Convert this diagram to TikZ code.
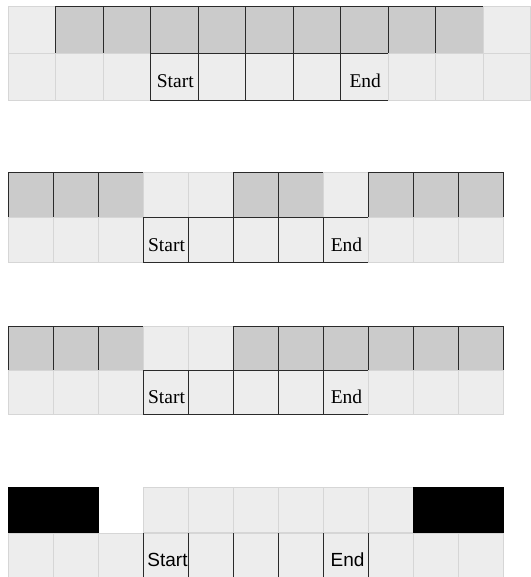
\documentclass[tikz,border=0pt]{standalone}
\usepackage{fontspec}
\setmainfont{Liberation Serif}
\newfontfamily\arialfont{Liberation Sans}

\definecolor{fillLight}{HTML}{EDEDED}
\definecolor{lineLight}{HTML}{D6D6D6}
\definecolor{fillGrey}{HTML}{CBCBCB}
\definecolor{lineDark}{HTML}{2A2A2A}

\begin{document}
\begin{tikzpicture}[
    x=1pt, y=-1pt,
    cell/.style={inner sep=0pt, outer sep=0pt, line width=0.8pt},
    lightcell/.style={cell, draw=lineLight, fill=fillLight},
    greycell/.style={cell, draw=lineDark, fill=fillGrey},
    markcell/.style={cell, draw=lineDark, fill=fillLight},
    raisedcell/.style={lightcell, minimum height=48pt},
    blackcell/.style={cell, draw=black, fill=black},
    gapcell/.style={cell},
    tag/.style={anchor=base, inner sep=0pt, font=\fontsize{19.5}{20}\selectfont},
    sanstag/.style={tag, font=\fontsize{19}{20}\selectfont\arialfont},
    edge/.style={lineDark, line width=1pt},
]
\useasboundingbox (0,0) rectangle (530,577);

%----------------------------------
% Row 1
%----------------------------------

\foreach \k [count=\i from 0] in {lightcell,greycell,greycell,greycell,greycell,greycell,greycell,greycell,greycell,greycell,lightcell}
    \node[\k, minimum width=47.5pt, minimum height=47pt, anchor=south west] (r1t\i) at (8+\i*47.5, 53) {};

\foreach \k [count=\i from 0] in {lightcell,lightcell,lightcell,markcell,markcell,markcell,markcell,markcell,lightcell,lightcell,lightcell}
    \node[\k, minimum width=47.5pt, minimum height=47pt, anchor=north west] (r1b\i) at (8+\i*47.5, 53) {};

\node[tag] at ([xshift=1pt,yshift=12pt]r1b3.south) {Start};
\node[tag] at ([xshift=1pt,yshift=12pt]r1b7.south) {End};

%----------------------------------
% Row 2
%----------------------------------

\foreach \k [count=\i from 0] in {greycell,greycell,greycell,lightcell,lightcell,greycell,greycell,raisedcell,greycell,greycell,greycell}
    \node[\k, minimum width=45pt, minimum height=45pt, anchor=south west] (r2t\i) at (8+\i*45, 217) {};

\foreach \k [count=\i from 0] in {lightcell,lightcell,lightcell,markcell,markcell,markcell,markcell,markcell,lightcell,lightcell,lightcell}
    \node[\k, minimum width=45pt, minimum height=45pt, anchor=north west] (r2b\i) at (8+\i*45, 217) {};

\node[tag] at ([xshift=1pt,yshift=11pt]r2b3.south) {Start};
\node[tag] at ([xshift=1pt,yshift=11pt]r2b7.south) {End};

%----------------------------------
% Row 3
%----------------------------------

\foreach \k [count=\i from 0] in {greycell,greycell,greycell,lightcell,lightcell,greycell,greycell,greycell,greycell,greycell,greycell}
    \node[\k, minimum width=45pt, minimum height=44pt, anchor=south west] (r3t\i) at (8+\i*45, 370) {};

\foreach \k [count=\i from 0] in {lightcell,lightcell,lightcell,markcell,markcell,markcell,markcell,markcell,lightcell,lightcell,lightcell}
    \node[\k, minimum width=45pt, minimum height=44pt, anchor=north west] (r3b\i) at (8+\i*45, 370) {};

\node[tag] at ([xshift=1pt,yshift=11pt]r3b3.south) {Start};
\node[tag] at ([xshift=1pt,yshift=11pt]r3b7.south) {End};

%----------------------------------
% Row 4
%----------------------------------

\foreach \k [count=\i from 0] in {blackcell,blackcell,gapcell,lightcell,lightcell,lightcell,lightcell,lightcell,lightcell,blackcell,blackcell}
    \node[\k, minimum width=45pt, minimum height=45pt, anchor=south west] (r4t\i) at (8+\i*45, 532) {};

\foreach \i in {0,...,10}
    \node[lightcell, minimum width=45pt, minimum height=44pt, anchor=north west] (r4b\i) at (8+\i*45, 533) {};

\foreach \i in {3,...,7}
    \draw[edge] (r4b\i.north west) -- (r4b\i.south west);
\draw[edge] (r4b7.north east) -- (r4b7.south east);

\node[sanstag] at ([xshift=2pt,yshift=11pt]r4b3.south) {Start};
\node[sanstag] at ([xshift=2pt,yshift=11pt]r4b7.south) {End};

\end{tikzpicture}
\end{document}
